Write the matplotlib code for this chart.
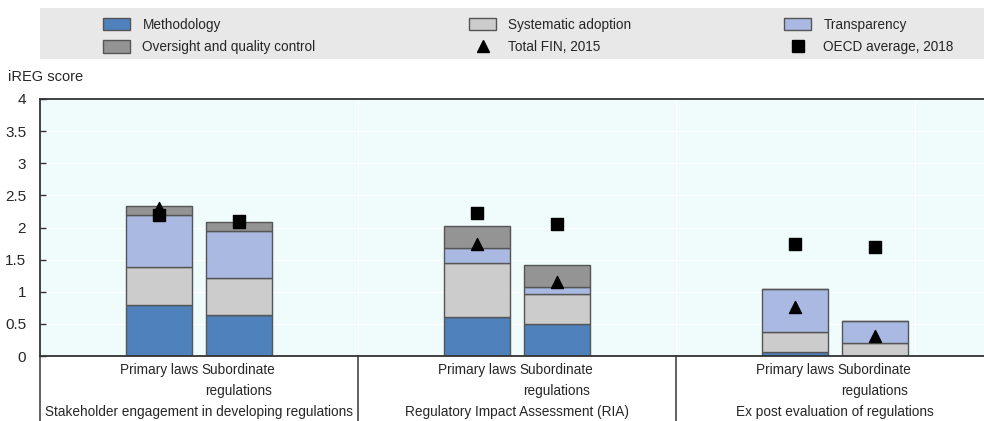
import matplotlib
matplotlib.use("Agg")
import matplotlib.pyplot as plt
from matplotlib.patches import Patch, Rectangle
from matplotlib.lines import Line2D
from matplotlib.transforms import blended_transform_factory

plt.rcParams['font.family'] = ['Liberation Sans', 'DejaVu Sans']

# ---------------- data ----------------
groups = ["Stakeholder engagement in developing regulations",
          "Regulatory Impact Assessment (RIA)",
          "Ex post evaluation of regulations"]
categories = ["Primary laws", "Subordinate\nregulations"]
methodology = [0.80, 0.64, 0.61, 0.50, 0.07, 0.00]
systematic = [0.58, 0.57, 0.83, 0.46, 0.30, 0.20]
transparency = [0.82, 0.73, 0.24, 0.11, 0.68, 0.34]
oversight = [0.13, 0.14, 0.34, 0.34, 0.00, 0.00]
total_fin_2015 = [2.30, 2.08, 1.75, 1.15, 0.76, 0.31]
oecd_avg_2018 = [2.20, 2.10, 2.22, 2.05, 1.75, 1.70]
yticks = [0, 0.5, 1, 1.5, 2, 2.5, 3, 3.5, 4]
ytick_labels = ["0", "0.5", "1", "1.5", "2", "2.5", "3", "3.5", "4"]

series_names = ["Methodology", "Systematic adoption", "Transparency", "Oversight and quality control"]
colors = ["#4F81BD", "#CCCCCC", "#A9B9E2", "#949494"]
edge = "#555555"
txt = "#262626"

# ---------------- layout ----------------
W, H = 984, 421
fig = plt.figure(figsize=(W / 100, H / 100), dpi=100)
ax_left, ax_right, ax_bottom, ax_top = 40, 984, 356, 99
ax = fig.add_axes([ax_left / W, 1 - ax_bottom / H, (ax_right - ax_left) / W, (ax_bottom - ax_top) / H])
ax_h = ax_bottom - ax_top

slot_w = 79.5
xmax = -0.5 + (ax_right - ax_left) / slot_w
xs = []
for g in range(len(groups)):
    xs += [4 * g + 1, 4 * g + 2]

ax.set_facecolor("#F0FBFB")
for y in yticks[1:-1]:
    ax.axhline(y, color="white", lw=1.0, zorder=0.5)
for xv in [3.5, 7.5, 10.5]:
    ax.axvline(xv, color="white", lw=1.0, zorder=0.5)

bottom = [0.0] * len(xs)
for vals, col in zip([methodology, systematic, transparency, oversight], colors):
    ax.bar(xs, vals, width=0.83, bottom=bottom, color=col, edgecolor=edge, linewidth=1.0, zorder=2)
    bottom = [b + v for b, v in zip(bottom, vals)]

ax.scatter(xs, total_fin_2015, marker="^", s=75, color="black", zorder=3)
ax.scatter(xs, oecd_avg_2018, marker="s", s=85, color="black", zorder=4)

ax.set_xlim(-0.5, xmax)
ax.set_ylim(0, 4)
ax.set_yticks(yticks)
ax.set_yticklabels(ytick_labels, fontsize=11, color=txt)
ax.tick_params(axis="y", direction="in", length=4, width=1, color="#333333", pad=10)
ax.set_xticks([])
for s in ["left", "bottom", "top"]:
    ax.spines[s].set_color("#333333")
    ax.spines[s].set_linewidth(1.3)
ax.spines["right"].set_visible(False)

fig.text(8 / W, 1 - 77 / H, "iREG score", ha="left", va="center", fontsize=10.5, color=txt)

trans = blended_transform_factory(ax.transData, ax.transAxes)
# category labels
for i, x in enumerate(xs):
    ax.text(x, -(363 - ax_bottom) / ax_h, categories[i % 2], transform=trans, ha="center", va="top",
            fontsize=9.8, linespacing=1.6, color=txt)
# group labels
for g, name in enumerate(groups):
    ax.text(4 * g + 1.5, -(412 - ax_bottom) / ax_h, name, transform=trans, ha="center", va="center",
            fontsize=9.8, color=txt)
# separators
for xv in [-0.5, 3.5, 7.5]:
    ax.plot([xv, xv], [0, -0.27], transform=trans, color="#555555", lw=1.3, clip_on=False)

# ---------------- legend ----------------
fig.patches.append(Rectangle((40 / W, 1 - 59 / H), (984 - 40) / W, 51 / H,
                             transform=fig.transFigure, facecolor="#E8E8E8", edgecolor="none", zorder=0))

def mkpatch(c):
    return Patch(facecolor=c, edgecolor=edge, linewidth=1.0)

col_specs = [
    (103, [mkpatch(colors[0]), mkpatch(colors[3])], [series_names[0], series_names[3]]),
    (469, [mkpatch(colors[1]),
           Line2D([], [], marker="^", color="black", linestyle="none", markersize=9)],
     [series_names[1], "Total FIN, 2015"]),
    (784, [mkpatch(colors[2]),
           Line2D([], [], marker="s", color="black", linestyle="none", markersize=9)],
     [series_names[2], "OECD average, 2018"]),
]
for xpx, handles, labels in col_specs:
    leg = fig.legend(handles, labels, loc="upper left", bbox_to_anchor=(xpx / W, 1 - 18 / H),
                     frameon=False, fontsize=9.8, handlelength=2.0, handleheight=1.0,
                     handletextpad=0.9, labelspacing=0.6, borderpad=0, borderaxespad=0)
    for t in leg.get_texts():
        t.set_color(txt)

fig.savefig("out.png", dpi=100)
